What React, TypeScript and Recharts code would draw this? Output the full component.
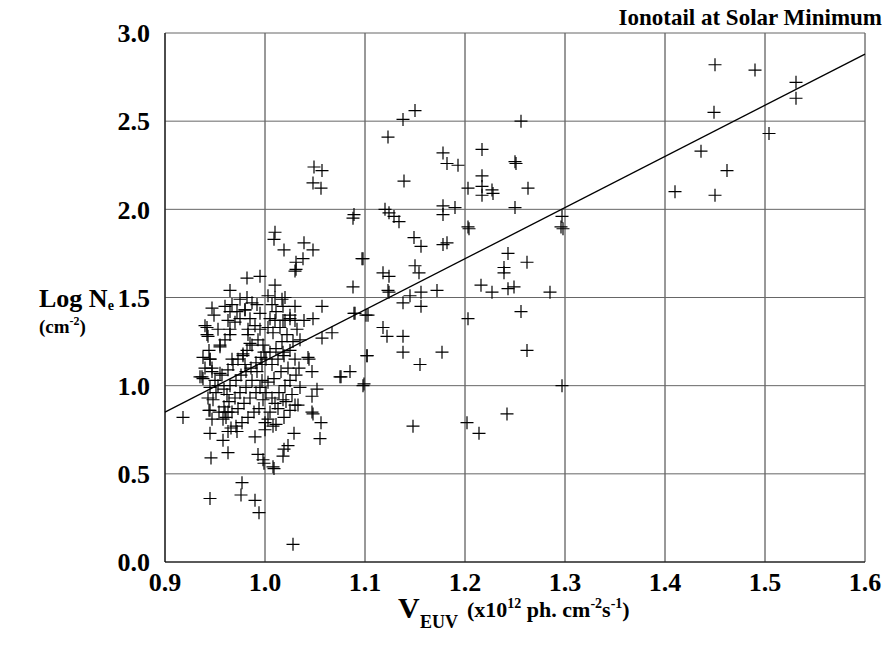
import React from 'react';
import { ScatterChart, Scatter, XAxis, YAxis, CartesianGrid, ReferenceLine } from 'recharts';

const xTicks = [0.9, 1.0, 1.1, 1.2, 1.3, 1.4, 1.5, 1.6];
const yTicks = [0, 0.5, 1.0, 1.5, 2.0, 2.5, 3.0];
const fitStart = { x: 0.9, y: 0.85 };
const fitEnd = { x: 1.6, y: 2.88 };

const highGroup: number[][] = [
  [1.450, 2.82], [1.490, 2.79], [1.531, 2.72], [1.531, 2.63], [1.449, 2.55], [1.436, 2.33],
  [1.504, 2.43], [1.462, 2.22], [1.410, 2.10], [1.450, 2.08], [1.297, 1.96], [1.298, 1.89],
  [1.296, 1.90], [1.297, 1.00], [1.285, 1.53],
];

const midGroup: number[][] = [
  [1.150, 2.56], [1.138, 2.51], [1.256, 2.50], [1.123, 2.41], [1.178, 2.32], [1.217, 2.34],
  [1.182, 2.26], [1.193, 2.25], [1.250, 2.27], [1.251, 2.26], [1.139, 2.16], [1.217, 2.19],
  [1.203, 2.12], [1.217, 2.13], [1.227, 2.11], [1.217, 2.08], [1.228, 2.09], [1.263, 2.12],
  [1.120, 2.00], [1.124, 1.98], [1.129, 1.96], [1.134, 1.93], [1.178, 2.02], [1.178, 1.97],
  [1.190, 2.01], [1.250, 2.01], [1.203, 1.90], [1.204, 1.89], [1.149, 1.84], [1.156, 1.79],
  [1.178, 1.80], [1.182, 1.81], [1.098, 1.72], [1.150, 1.68], [1.154, 1.64], [1.118, 1.64],
  [1.124, 1.62], [1.243, 1.75], [1.239, 1.67], [1.239, 1.64], [1.262, 1.70],
  [1.123, 1.54], [1.124, 1.53], [1.145, 1.51], [1.138, 1.47], [1.156, 1.53], [1.172, 1.54],
  [1.156, 1.45], [1.216, 1.57], [1.227, 1.53], [1.243, 1.55], [1.249, 1.56], [1.256, 1.42],
  [1.103, 1.40], [1.203, 1.38], [1.118, 1.33], [1.122, 1.28], [1.138, 1.28], [1.102, 1.17],
  [1.138, 1.19], [1.177, 1.19], [1.155, 1.12], [1.262, 1.20], [1.098, 1.00], [1.099, 1.01],
  [1.242, 0.84], [1.148, 0.77], [1.202, 0.79], [1.214, 0.73],
];

const nearOneGroup: number[][] = [
  [1.049, 2.24], [1.057, 2.22], [1.048, 2.15], [1.056, 2.12],
  [1.089, 1.97], [1.088, 1.95], [1.010, 1.87], [1.009, 1.83], [1.039, 1.81], [1.019, 1.77],
  [1.048, 1.77], [1.097, 1.72], [1.038, 1.72], [1.031, 1.70], [1.030, 1.65], [1.031, 1.66],
  [1.088, 1.56], [1.010, 1.57], [1.010, 1.50], [1.017, 1.49], [1.020, 1.50], [1.030, 1.45],
  [1.018, 1.45], [1.057, 1.45], [1.089, 1.41], [1.090, 1.41], [1.101, 1.40], [1.048, 1.38],
  [1.039, 1.37], [1.030, 1.37], [1.025, 1.38], [1.018, 1.37], [1.010, 1.37], [1.067, 1.30],
  [1.057, 1.27], [1.035, 1.26], [1.043, 1.16], [1.044, 1.15], [1.102, 1.17], [1.018, 1.19],
  [1.047, 1.08], [1.075, 1.05], [1.076, 1.05], [1.085, 1.08], [1.052, 0.98], [1.047, 0.94],
  [1.030, 0.89], [1.018, 0.92], [1.010, 0.90], [1.047, 0.85], [1.048, 0.84], [1.056, 0.79],
  [1.055, 0.70], [1.029, 0.73], [1.023, 0.66], [1.019, 0.64], [1.018, 0.60], [1.008, 0.54],
  [1.009, 0.53], [0.999, 0.56], [1.028, 0.10],
];

const lowGroup: number[][] = [
  [0.918, 0.82], [0.945, 0.86], [0.945, 0.73], [0.946, 0.59], [0.945, 0.36], [0.963, 0.62],
  [0.958, 0.69], [0.963, 0.74], [0.972, 0.74], [0.960, 0.85], [0.963, 0.85], [0.958, 0.81],
  [0.990, 0.71], [0.993, 0.61], [0.998, 0.58], [0.977, 0.45], [0.976, 0.38], [0.990, 0.35],
  [0.994, 0.28], [1.000, 0.75], [1.008, 0.77], [1.000, 0.79],
  [0.995, 1.62], [0.982, 1.61], [0.965, 1.54], [0.982, 1.50], [0.947, 1.44], [0.960, 1.45],
  [0.965, 1.42], [0.972, 1.42], [0.980, 1.43], [0.992, 1.46], [0.942, 1.33], [0.943, 1.28],
  [0.965, 1.29], [0.983, 1.32], [0.955, 1.22], [0.938, 1.16], [0.945, 1.15], [0.947, 1.10],
  [0.967, 1.15], [0.978, 1.18], [0.985, 1.24], [0.937, 1.05], [0.955, 1.07], [0.980, 1.12],
  [0.995, 1.41], [0.935, 1.05],
];

const clusterA: number[][] = [
  [0.940, 1.34], [0.942, 1.29], [0.944, 1.20], [0.945, 1.15], [0.940, 1.10], [0.947, 1.08],
  [0.950, 1.03], [0.938, 1.04], [0.955, 1.23], [0.960, 1.26], [0.965, 1.32], [0.970, 1.36],
  [0.975, 1.38], [0.980, 1.43], [0.985, 1.38], [0.990, 1.34], [0.995, 1.32], [0.993, 1.26],
  [0.987, 1.23], [0.982, 1.20], [0.978, 1.17], [0.973, 1.15], [0.968, 1.12], [0.963, 1.09],
  [0.957, 1.06], [0.953, 1.00], [0.959, 0.98], [0.965, 1.00], [0.971, 1.03], [0.976, 1.06],
  [0.981, 1.08], [0.986, 1.10], [0.991, 1.13], [0.996, 1.16], [0.999, 1.19], [0.998, 1.23],
  [0.997, 1.12], [0.992, 1.08], [0.987, 1.03], [0.981, 0.99], [0.975, 0.96], [0.970, 0.93],
  [0.964, 0.91], [0.959, 0.88], [0.954, 0.85], [0.961, 0.82], [0.967, 0.85], [0.973, 0.87],
  [0.979, 0.90], [0.985, 0.93], [0.991, 0.96], [0.995, 0.99], [0.997, 1.03], [0.998, 0.92],
  [0.994, 0.87], [0.989, 0.85], [0.983, 0.82], [0.977, 0.79], [0.971, 0.77], [0.966, 0.76],
  [0.962, 0.95], [0.948, 0.92], [0.951, 0.96], [0.945, 0.99], [0.944, 0.86], [0.947, 0.81],
  [0.943, 0.93], [0.975, 1.49], [0.967, 1.46], [0.963, 1.37], [0.953, 1.32], [0.949, 1.40],
  [0.983, 1.29], [0.987, 1.47],
];

const clusterB: number[][] = [
  [1.003, 1.51], [1.007, 1.46], [1.011, 1.42], [1.005, 1.38], [1.003, 1.33], [1.008, 1.30],
  [1.015, 1.33], [1.020, 1.37], [1.025, 1.40], [1.022, 1.29], [1.017, 1.25], [1.011, 1.21],
  [1.005, 1.19], [1.001, 1.15], [1.007, 1.12], [1.013, 1.15], [1.019, 1.17], [1.025, 1.20],
  [1.028, 1.25], [1.032, 1.32], [1.030, 1.15], [1.023, 1.10], [1.016, 1.08], [1.009, 1.04],
  [1.003, 1.02], [1.001, 0.96], [1.007, 0.93], [1.014, 0.96], [1.020, 1.00], [1.025, 1.03],
  [1.031, 1.06], [1.027, 0.95], [1.021, 0.91], [1.013, 0.87], [1.005, 0.85], [1.003, 0.81],
  [1.011, 0.78], [1.019, 0.82], [1.025, 0.86], [1.033, 0.89], [1.035, 0.99], [1.034, 1.10],
];

const allPoints = [...highGroup, ...midGroup, ...nearOneGroup, ...lowGroup, ...clusterA, ...clusterB].map(
  ([x, y]) => ({ x, y })
);

const FONT = '"Liberation Serif", "Times New Roman", serif';

const Cross = (props: any) => {
  const { cx, cy } = props;
  if (cx == null || cy == null) return null;
  const h = 6.5;
  return (
    <path
      d={`M${cx - h},${cy}H${cx + h}M${cx},${cy - h}V${cy + h}`}
      stroke="#000"
      strokeWidth={1.2}
      fill="none"
    />
  );
};

const tickStyle = { fontFamily: FONT, fontWeight: 'bold', fontSize: 26, fill: '#000' };

export default function App() {
  return (
    <div style={{ position: 'absolute', left: 0, top: 0, width: 888, height: 645, background: '#fff' }}>
      <ScatterChart width={888} height={645} margin={{ top: 33, right: 23, bottom: 43, left: 0 }}>
        <CartesianGrid horizontal={false} stroke="#333" strokeWidth={1} strokeOpacity={1} verticalValues={xTicks} />
        <CartesianGrid vertical={false} stroke="#666" strokeWidth={1} strokeOpacity={1} horizontalValues={yTicks} />
        <XAxis
          type="number"
          dataKey="x"
          domain={[0.9, 1.6]}
          ticks={xTicks}
          tickFormatter={(v: number) => v.toFixed(1)}
          tick={tickStyle}
          tickLine={false}
          tickSize={0}
          tickMargin={11}
          axisLine={{ stroke: '#000' }}
          height={40}
          interval={0}
        />
        <YAxis
          type="number"
          dataKey="y"
          domain={[0, 3]}
          ticks={yTicks}
          tickFormatter={(v: number) => v.toFixed(1)}
          tick={tickStyle}
          tickLine={false}
          tickSize={0}
          tickMargin={15}
          axisLine={{ stroke: '#000' }}
          width={165}
          interval={0}
        />
        <ReferenceLine
          segment={[fitStart, fitEnd]}
          stroke="#000"
          strokeWidth={1.3}
          ifOverflow="visible"
        />
        <Scatter data={allPoints} shape={Cross} isAnimationActive={false} />
      </ScatterChart>
      <svg
        width={888}
        height={645}
        style={{ position: 'absolute', left: 0, top: 0, pointerEvents: 'none' }}
      >
        <text
          x={882}
          y={25}
          textAnchor="end"
          fontFamily={FONT}
          fontWeight="bold"
          fontSize={23}
          fill="#000"
        >
          Ionotail at Solar Minimum
        </text>
        <text x={39} y={307} fontFamily={FONT} fontWeight="bold" fontSize={26} fill="#000">
          Log N
          <tspan fontSize={14} dy={3}>e</tspan>
        </text>
        <text x={39} y={333} fontFamily={FONT} fontWeight="bold" fontSize={19} fill="#000">
          (cm
          <tspan fontSize={12} dy={-8}>-2</tspan>
          <tspan dy={8}>)</tspan>
        </text>
        <text x={398} y={618} fontFamily={FONT} fontWeight="bold" fontSize={30} fill="#000">
          V
        </text>
        <text x={420} y={628} fontFamily={FONT} fontWeight="bold" fontSize={18} fill="#000">
          EUV
        </text>
        <text x={467} y={617} fontFamily={FONT} fontWeight="bold" fontSize={22} fill="#000">
          (x10
          <tspan fontSize={14} dy={-9}>12</tspan>
          <tspan dy={9}> ph. cm</tspan>
          <tspan fontSize={14} dy={-9}>-2</tspan>
          <tspan dy={9}>s</tspan>
          <tspan fontSize={14} dy={-9}>-1</tspan>
          <tspan dy={9}>)</tspan>
        </text>
      </svg>
    </div>
  );
}
